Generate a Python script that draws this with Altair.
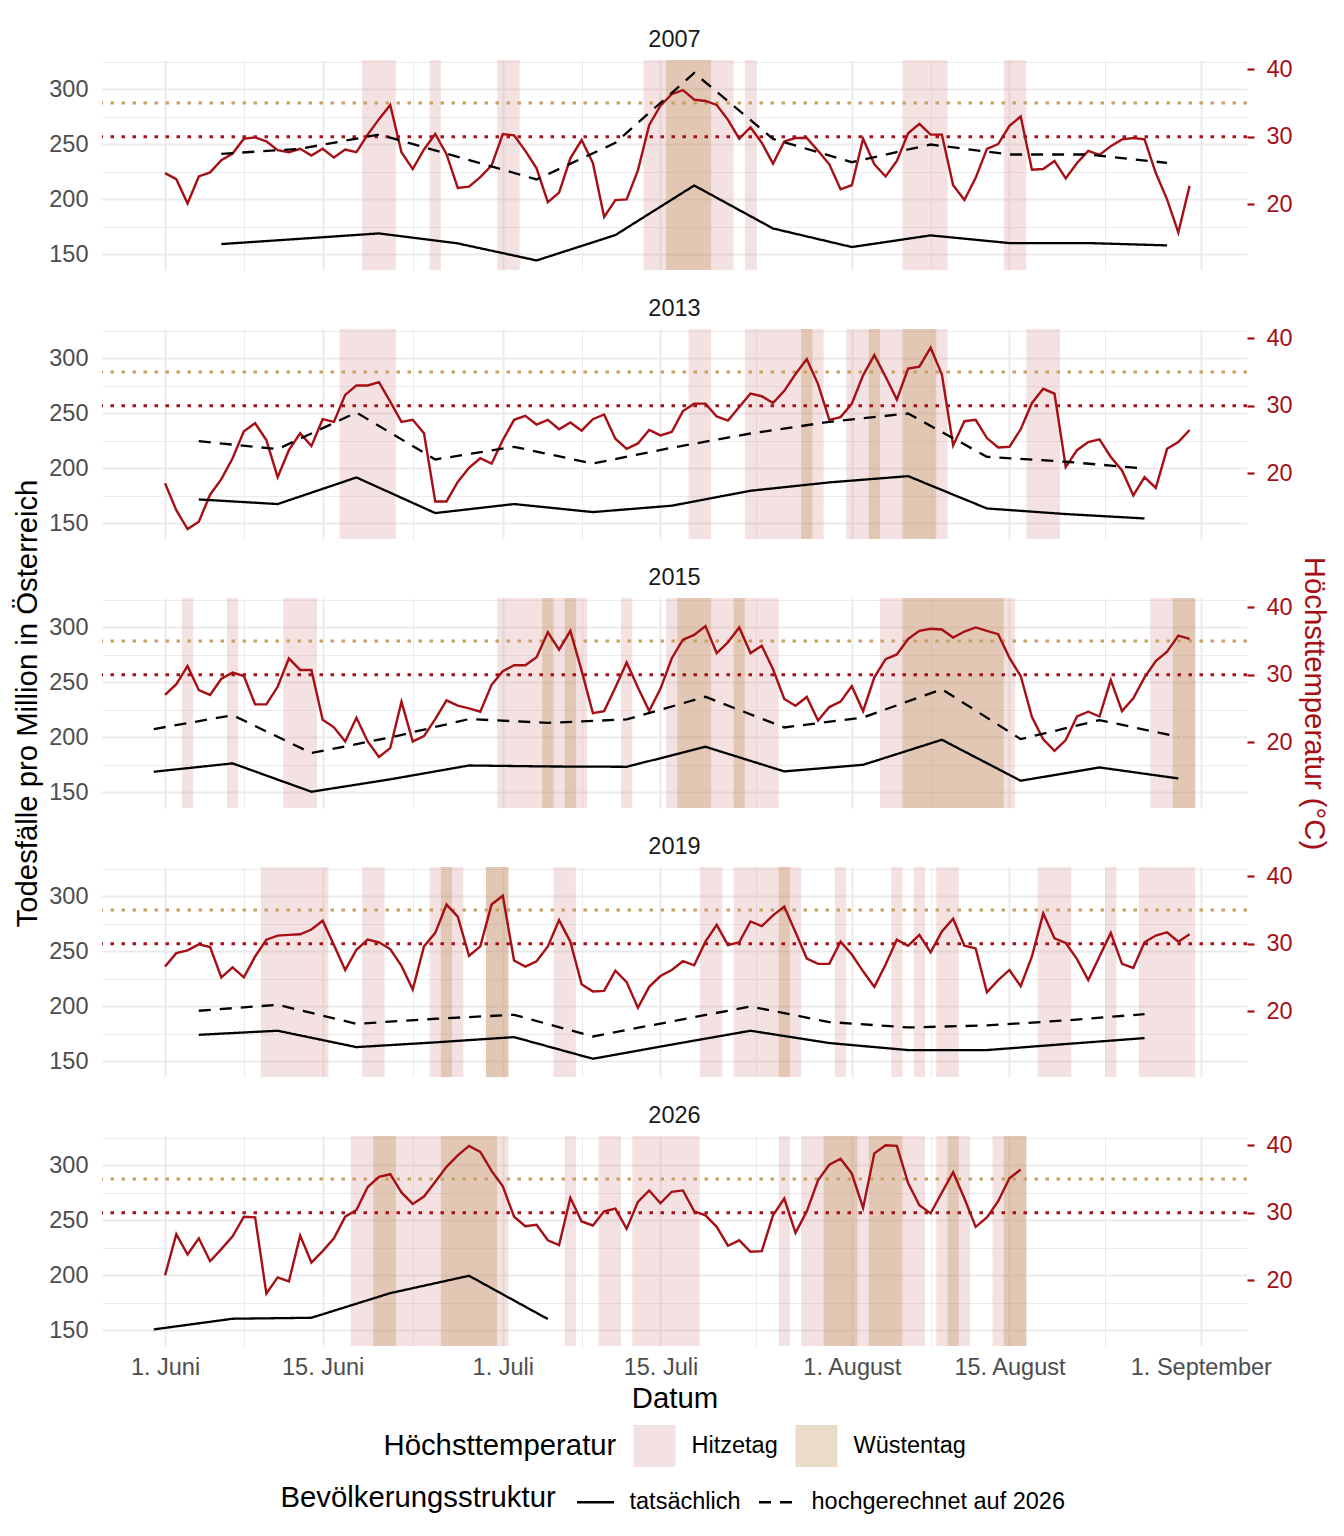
import altair as alt
import pandas as pd

# ---------------- data ----------------
years = ["2007", "2013", "2015", "2019", "2026"]

# daily maximum temperature, day 0 = 1 June
temp_2007 = [24.6, 23.7, 20.1, 24.1, 24.7, 26.5, 27.5, 29.7, 29.9, 29.3,
             28.0, 27.7, 28.2, 27.2, 28.2, 26.9, 28.1, 27.7, 30.3, 32.6,
             34.7, 27.7, 25.2, 28.1, 30.4, 27.4, 22.4, 22.6, 24.0, 25.7,
             30.4, 30.2, 27.9, 25.3, 20.3, 21.7, 26.8, 29.5, 26.1, 18.1,
             20.6, 20.7, 25.0, 31.7, 34.6, 36.3, 36.9, 35.5, 35.3, 34.7,
             32.5, 29.7, 31.4, 29.1, 26.0, 29.3, 29.8, 29.8, 27.9, 25.9,
             22.2, 22.8, 29.7, 25.9, 24.1, 26.4, 30.5, 31.9, 30.3, 30.3,
             22.8, 20.6, 23.9, 28.2, 28.9, 31.6, 33.0, 25.1, 25.2, 26.4,
             23.8, 26.1, 27.9, 27.3, 28.6, 29.6, 29.8, 29.6, 24.6, 20.7,
             15.8, 22.7]
temp_2013 = [18.5, 14.5, 11.7, 12.8, 16.8, 19.1, 22.2, 26.2, 27.4, 24.9,
             19.4, 23.4, 25.9, 24.0, 28.0, 27.6, 31.6, 33.0, 33.0, 33.5,
             30.6, 27.6, 27.9, 25.9, 15.8, 15.8, 18.7, 20.8, 22.2, 21.4,
             24.9, 27.9, 28.5, 27.2, 27.9, 26.5, 27.5, 26.3, 28.0, 28.7,
             25.1, 23.6, 24.4, 26.4, 25.6, 26.1, 29.2, 30.3, 30.3, 28.4,
             27.8, 29.8, 31.8, 31.4, 30.4, 32.2, 34.7, 36.9, 33.2, 27.9,
             28.3, 30.3, 34.5, 37.5, 34.3, 30.9, 35.5, 35.8, 38.6, 34.6,
             24.1, 27.7, 27.9, 25.2, 23.8, 23.9, 26.5, 30.4, 32.5, 31.8,
             20.9, 23.4, 24.6, 25.0, 22.4, 20.4, 16.7, 19.4, 17.8, 23.6,
             24.6, 26.4]
temp_2015 = [27.0, 28.6, 31.3, 27.7, 27.0, 29.4, 30.3, 29.8, 25.6, 25.6,
             28.2, 32.4, 30.7, 30.7, 23.3, 22.2, 20.1, 23.6, 20.1, 17.8,
             19.1, 26.0, 20.1, 20.9, 23.4, 26.2, 25.4, 25.0, 24.5, 28.5,
             30.5, 31.4, 31.4, 32.6, 36.3, 33.7, 36.5, 30.6, 24.3, 24.6,
             28.1, 31.8, 28.1, 24.6, 27.9, 32.4, 35.2, 35.9, 37.2, 33.2,
             34.8, 37.0, 33.2, 34.3, 30.8, 26.4, 25.4, 26.7, 23.2, 25.2,
             26.0, 28.3, 24.6, 29.6, 32.3, 33.0, 35.3, 36.5, 36.8, 36.7,
             35.5, 36.4, 37.0, 36.5, 36.0, 32.5, 29.8, 23.7, 20.4, 18.7,
             20.3, 23.8, 24.5, 23.8, 29.2, 24.6, 26.5, 29.6, 32.0, 33.4,
             35.8, 35.3]
temp_2019 = [26.6, 28.6, 29.0, 29.9, 29.5, 25.0, 26.5, 25.0, 28.1, 30.6,
             31.2, 31.3, 31.4, 32.1, 33.4, 29.8, 26.1, 29.1, 30.6, 30.2,
             29.2, 26.7, 23.2, 29.6, 31.6, 35.8, 34.0, 28.2, 29.6, 35.8,
             37.1, 27.5, 26.6, 27.4, 29.6, 33.5, 30.3, 24.0, 22.9, 23.0,
             26.0, 24.3, 20.5, 23.6, 25.2, 26.1, 27.4, 26.8, 30.3, 32.8,
             29.8, 30.2, 33.3, 32.6, 34.2, 35.5, 31.7, 27.8, 27.0, 27.0,
             30.3, 28.4, 25.9, 23.6, 26.9, 30.6, 29.7, 31.3, 28.7, 31.8,
             33.7, 29.7, 29.3, 22.8, 24.6, 26.1, 23.7, 28.1, 34.5, 30.8,
             30.1, 27.7, 24.6, 28.1, 31.6, 27.0, 26.4, 30.2, 31.2, 31.7,
             30.3, 31.4]
temp_2026 = [20.7, 26.8, 23.8, 26.2, 22.8, 24.6, 26.5, 29.4, 29.3, 18.0,
             20.4, 19.8, 26.6, 22.6, 24.3, 26.2, 29.4, 30.4, 33.8, 35.3,
             35.7, 33.0, 31.3, 32.4, 34.6, 36.8, 38.5, 39.9, 39.0, 36.2,
             33.9, 29.4, 28.0, 28.2, 25.9, 25.2, 32.2, 28.7, 28.1, 30.2,
             30.6, 27.6, 31.6, 33.3, 31.4, 33.1, 33.3, 30.2, 29.6, 27.9,
             25.1, 25.9, 24.2, 24.3, 29.6, 32.1, 27.0, 30.2, 34.8, 37.1,
             38.0, 35.8, 30.7, 38.8, 40.0, 39.9, 34.4, 31.1, 29.9, 33.0,
             36.0, 32.1, 27.9, 29.3, 31.7, 35.1, 36.4]

# weekly deaths per million (day offset from 1 June)
days_2007 = [5, 12, 19, 26, 33, 40, 47, 54, 61, 68, 75, 82, 89]
actual_2007 = [159.1, 163.9, 168.8, 159.7, 144.2, 167.3, 212.4, 173.3, 156.4, 167.0, 160.0, 160.0, 157.9]
proj_2007 = [241.2, 245.8, 258.8, 238.5, 217.9, 251.2, 314.8, 254.8, 233.6, 249.7, 240.6, 240.6, 233.0]

days_2013 = [3, 10, 17, 24, 31, 38, 45, 52, 59, 66, 73, 80, 87]
actual_2013 = [171.5, 167.3, 191.5, 159.1, 167.3, 160.0, 165.8, 179.4, 187.0, 192.7, 163.3, 158.2, 154.2]
proj_2013 = [224.5, 217.3, 250.6, 207.9, 219.4, 204.2, 218.5, 231.5, 242.1, 249.7, 210.3, 205.8, 199.7]

days_2015 = [-1, 6, 13, 20, 27, 34, 41, 48, 55, 62, 69, 76, 83, 90]
actual_2015 = [168.5, 176.1, 150.3, 161.6, 174.2, 173.3, 173.0, 191.2, 168.8, 174.8, 197.6, 160.3, 172.4, 162.4]
proj_2015 = [207.3, 220.0, 185.5, 199.7, 216.4, 213.0, 216.1, 236.7, 208.8, 217.9, 243.6, 198.2, 215.5, 200.3]

days_2019 = [3, 10, 17, 24, 31, 38, 45, 52, 59, 66, 73, 80, 87]
actual_2019 = [173.9, 177.6, 162.7, 167.0, 171.8, 152.1, 165.0, 177.6, 166.4, 160.0, 160.0, 165.5, 170.9]
proj_2019 = [195.8, 201.2, 183.9, 188.5, 192.1, 172.4, 186.1, 199.7, 185.5, 180.6, 182.4, 187.0, 192.7]

days_2026 = [-1, 6, 13, 20, 27, 34]
actual_2026 = [150.6, 160.3, 161.2, 183.6, 199.4, 160.0]

temps = {"2007": temp_2007, "2013": temp_2013, "2015": temp_2015,
         "2019": temp_2019, "2026": temp_2026}
deaths = {"2007": (days_2007, actual_2007, proj_2007),
          "2013": (days_2013, actual_2013, proj_2013),
          "2015": (days_2015, actual_2015, proj_2015),
          "2019": (days_2019, actual_2019, proj_2019),
          "2026": (days_2026, actual_2026, None)}

x_major = [0, 14, 30, 44, 61, 75, 92]
x_major_labels = ["1. Juni", "15. Juni", "1. Juli", "15. Juli",
                  "1. August", "15. August", "1. September"]
x_minor = [7, 22, 37, 52.5, 68, 83.5]
y_ticks = [150, 175, 200, 225, 250, 275, 300, 325]
temp_ticks = [20, 30, 40]
thresholds = [30, 35]          # Hitzetag, Wüstentag
kinds = ["Hitzetag", "Wüstentag"]
struktur = ["tatsächlich", "hochgerechnet auf 2026"]

# ---------------- style ----------------
FONT = "Liberation Sans"
RED = "#A50F15"
TAN = "#C8A062"
GRID = "#EBEBEB"
kind_colors = ["#DA9EA2", "#B98A48"]
W, H = 1145, 210
X_DOMAIN = [-5.6, 96.1]
D_DOMAIN = [135.5, 326.6]
T_DOMAIN = [10.23, 41.37]


def runs(values, thr):
    out, start = [], None
    for i, v in enumerate(values):
        if v >= thr:
            if start is None:
                start = i
        elif start is not None:
            out.append((start - 0.5, i - 0.5))
            start = None
    if start is not None:
        out.append((start - 0.5, len(values) - 0.5))
    return out


label_expr = " : ".join(f"datum.value == {v} ? '{l}'" for v, l in zip(x_major, x_major_labels)) + " : ''"

fill_legend = alt.Legend(title="Höchsttemperatur", orient="none", legendX=281.5, legendY=1365,
                         direction="horizontal",
                         titleOrient="left", titleAnchor="middle", titleBaseline="middle",
                         titleFontSize=29.3, titleFontWeight="normal", titleColor="black",
                         titleLimit=600, labelLimit=600,
                         titlePadding=17, labelFontSize=23.5, labelColor="black", labelOffset=16,
                         columnPadding=17, symbolType="square", symbolSize=1764,
                         symbolStrokeWidth=0, symbolOpacity=0.3)
dash_legend = alt.Legend(title="Bevölkerungsstruktur", orient="none", legendX=178.5, legendY=1422,
                         direction="horizontal",
                         titleOrient="left", titleAnchor="middle", titleBaseline="middle",
                         titleFontSize=29.3, titleFontWeight="normal", titleColor="black",
                         titleLimit=600, labelLimit=600,
                         titlePadding=19, labelFontSize=23.5, labelColor="black", labelOffset=14,
                         columnPadding=12, symbolType="stroke", symbolSize=1369,
                         symbolStrokeWidth=2.5, symbolStrokeColor="black")


def panel(year, last, middle):
    x_kw = dict(values=sorted(x_major + x_minor), grid=True, gridColor=GRID,
                gridWidth={"condition": {"test": f"indexof({x_major}, datum.value) >= 0", "value": 2},
                           "value": 1},
                domain=False, ticks=False, tickSize=0, labelOverlap=False, labelFlush=False)
    if last:
        x_kw.update(labels=True, labelExpr=label_expr, labelFontSize=23.5, labelColor="#4D4D4D",
                    labelPadding=9, titleFontSize=29.3, titleFontWeight="normal",
                    titleColor="black", titlePadding=6)
    else:
        x_kw.update(labels=False)
    X = alt.X("tag:Q", scale=alt.Scale(domain=X_DOMAIN, nice=False, zero=False),
              axis=alt.Axis(**x_kw), title="Datum" if last else None)

    d_axis = alt.Axis(orient="left", values=y_ticks,
                      labelExpr="datum.value % 50 == 0 ? datum.label : ''",
                      grid=True, gridColor=GRID,
                      gridWidth={"condition": {"test": "datum.value % 50 == 0", "value": 2}, "value": 1},
                      domain=False, ticks=False, tickSize=0, labelFontSize=23.5,
                      labelColor="#4D4D4D", labelPadding=14, labelOverlap=False,
                      titleFontSize=29.3, titleFontWeight="normal", titleColor="black",
                      titlePadding=6)
    t_axis = alt.Axis(orient="right", values=temp_ticks, grid=False, domain=False, ticks=True,
                      tickColor=RED, tickSize=7, tickWidth=2.2, labelColor=RED,
                      labelFontSize=23.5, labelPadding=12, titleColor=RED, titleFontSize=29.3,
                      titleFontWeight="normal", titlePadding=6)
    d_title = "Todesfälle pro Million in Österreich" if middle else None
    t_title = "Höchsttemperatur (°C)" if middle else None
    t_scale = alt.Scale(domain=T_DOMAIN, nice=False, zero=False)
    d_scale = alt.Scale(domain=D_DOMAIN, nice=False, zero=False)

    tv = temps[year]
    tdf = pd.DataFrame({"tag": list(range(len(tv))), "temp": tv})

    rect_layers = []
    for kind, thr in zip(kinds, thresholds):
        rr = runs(tv, thr)
        rdf = pd.DataFrame({"tag": [a for a, b in rr], "tag2": [b for a, b in rr],
                            "kind": [kind] * len(rr)})
        rect_layers.append(
            alt.Chart(rdf).mark_rect(opacity=0.3).encode(
                x=X, x2="tag2:Q",
                fill=alt.Fill("kind:N", scale=alt.Scale(domain=kinds, range=kind_colors),
                              legend=fill_legend)))

    rules = []
    for thr, col in zip(thresholds, [RED, TAN]):
        rules.append(alt.Chart(pd.DataFrame({"t": [thr]})).mark_rule(
            color=col, strokeDash=[3.5, 7.5], strokeWidth=3).encode(
            y=alt.Y("t:Q", scale=t_scale, axis=t_axis, title=t_title)))
    tline = alt.Chart(tdf).mark_line(color=RED, strokeWidth=2.4).encode(
        x=X, y=alt.Y("temp:Q", scale=t_scale, axis=t_axis, title=t_title))
    temp_layer = alt.layer(*rules, tline)

    dd, act, proj = deaths[year]
    rows = [{"tag": d, "deaths": v, "struktur": struktur[0]} for d, v in zip(dd, act)]
    if proj is not None:
        rows += [{"tag": d, "deaths": v, "struktur": struktur[1]} for d, v in zip(dd, proj)]
    ddf = pd.DataFrame(rows)
    dline = alt.Chart(ddf).mark_line(color="black", strokeWidth=2.3).encode(
        x=X, y=alt.Y("deaths:Q", scale=d_scale, axis=d_axis, title=d_title),
        strokeDash=alt.StrokeDash("struktur:N",
                                  scale=alt.Scale(domain=struktur, range=[[1, 0], [12, 9]]),
                                  legend=dash_legend))

    # strip label (year) above the panel
    strip = alt.Chart(pd.DataFrame({"jahr": [year]})).mark_text(
        fontSize=23.5, color="#1A1A1A", baseline="alphabetic", align="center").encode(
        text="jahr:N", x=alt.value(W / 2), y=alt.value(-13))

    return alt.layer(*rect_layers, temp_layer, dline, strip).resolve_scale(
        y="independent").properties(width=W, height=H)


panels = [panel(y, i == len(years) - 1, i == 2) for i, y in enumerate(years)]

chart = alt.vconcat(*panels, spacing=59, bounds="flush").resolve_scale(
    y="independent").properties(
    padding={"left": 5, "top": 20, "right": 5, "bottom": 5},
    background="white").configure(font=FONT).configure_view(stroke=None)

chart.save("out.html", embed_options={"renderer": "svg", "actions": False})
